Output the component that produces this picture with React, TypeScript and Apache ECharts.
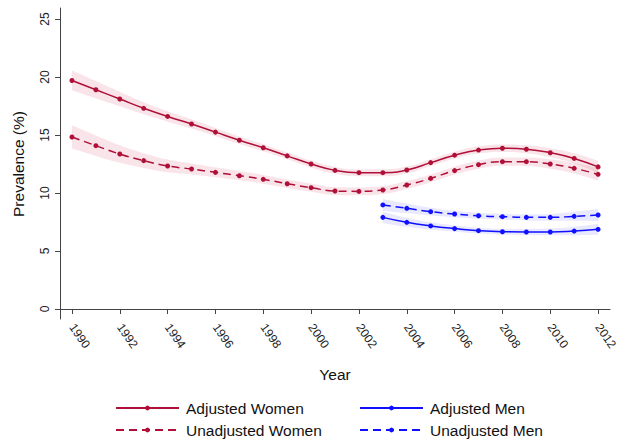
import React, { useEffect, useRef } from "react";
import * as echarts from "echarts";

const years = ["1990","1991","1992","1993","1994","1995","1996","1997","1998","1999","2000","2001","2002","2003","2004","2005","2006","2007","2008","2009","2010","2011","2012"];

const adjWomen = [19.7,18.9,18.1,17.3,16.6,15.95,15.25,14.55,13.9,13.2,12.5,11.95,11.75,11.75,11.98,12.62,13.26,13.7,13.86,13.77,13.47,12.98,12.25];
const adjWomenLo = [18.85,18.15,17.48,16.78,16.15,15.55,14.89,14.22,13.59,12.9,12.2,11.65,11.45,11.45,11.68,12.32,12.96,13.4,13.54,13.43,13.09,12.54,11.73];
const adjWomenHi = [20.55,19.65,18.72,17.82,17.05,16.35,15.61,14.88,14.21,13.5,12.8,12.25,12.05,12.05,12.28,12.92,13.56,14.0,14.18,14.11,13.85,13.42,12.77];

const unadjWomen = [14.83,14.08,13.36,12.79,12.33,12.07,11.78,11.49,11.18,10.8,10.46,10.17,10.14,10.26,10.69,11.26,11.93,12.44,12.7,12.7,12.5,12.13,11.61];
const unadjWomenLo = [13.83,13.2,12.61,12.16,11.78,11.59,11.35,11.09,10.8,10.43,10.1,9.82,9.8,9.92,10.35,10.92,11.59,12.1,12.35,12.33,12.1,11.68,11.06];
const unadjWomenHi = [15.83,14.96,14.11,13.42,12.88,12.55,12.21,11.89,11.56,11.17,10.82,10.52,10.48,10.6,11.03,11.6,12.27,12.78,13.05,13.07,12.9,12.58,12.16];

const adjMen = [null,null,null,null,null,null,null,null,null,null,null,null,null,7.9,7.47,7.16,6.93,6.75,6.66,6.64,6.64,6.72,6.87];
const adjMenLo = [null,null,null,null,null,null,null,null,null,null,null,null,null,7.42,7.08,6.85,6.66,6.5,6.41,6.38,6.35,6.36,6.4];
const adjMenHi = [null,null,null,null,null,null,null,null,null,null,null,null,null,8.38,7.86,7.47,7.2,7.0,6.91,6.9,6.93,7.08,7.34];

const unadjMen = [null,null,null,null,null,null,null,null,null,null,null,null,null,8.97,8.68,8.39,8.19,8.04,7.96,7.9,7.9,7.99,8.1];
const unadjMenLo = [null,null,null,null,null,null,null,null,null,null,null,null,null,8.45,8.27,8.06,7.91,7.78,7.71,7.64,7.6,7.6,7.58];
const unadjMenHi = [null,null,null,null,null,null,null,null,null,null,null,null,null,9.49,9.09,8.72,8.47,8.3,8.21,8.16,8.2,8.38,8.62];

const RED = "#B01038";
const BLUE = "#1010FF";
const RED_BAND = "rgba(205, 40, 70, 0.12)";
const BLUE_BAND = "rgba(30, 30, 255, 0.10)";
const FONT = "Liberation Sans";

function diff(hi: (number | null)[], lo: (number | null)[]) {
  return hi.map((h, i) => (h == null || lo[i] == null ? null : +(h - (lo[i] as number)).toFixed(3)));
}

function band(name: string, lo: (number | null)[], hi: (number | null)[], color: string) {
  return [
    {
      name: name + "_lo",
      type: "line",
      stack: name,
      data: lo,
      smooth: true,
      symbol: "none",
      lineStyle: { opacity: 0 },
      silent: true,
      z: 1,
    },
    {
      name: name + "_band",
      type: "line",
      stack: name,
      data: diff(hi, lo),
      smooth: true,
      symbol: "none",
      lineStyle: { opacity: 0 },
      areaStyle: { color, opacity: 1 },
      silent: true,
      z: 1,
    },
  ];
}

function mainLine(name: string, data: (number | null)[], color: string, dashed: boolean) {
  return {
    name,
    type: "line",
    data,
    smooth: true,
    symbol: "circle",
    symbolSize: 5,
    itemStyle: { color },
    lineStyle: { color, width: 1.5, type: dashed ? [8, 5] : "solid" },
    z: 3,
  };
}

export default function App() {
  const ref = useRef<HTMLDivElement>(null);
  useEffect(() => {
    if (!ref.current) return;
    document.body.style.margin = "0";
    const chart = echarts.init(ref.current, null, { renderer: "svg" });
    const legendCommon = {
      orient: "horizontal",
      padding: 0,
      itemWidth: 63,
      itemHeight: 6,
      textStyle: { fontSize: 15.5, color: "#111", fontFamily: FONT, padding: [0, 0, 0, 2] },
    };
    chart.setOption({
      animation: false,
      backgroundColor: "#fff",
      textStyle: { fontFamily: FONT },
      grid: [
        { left: 60, top: 19, width: 552, height: 290 },
        { left: 60, top: 8, width: 552, height: 311 },
      ],
      xAxis: [
        {
          type: "category",
          gridIndex: 0,
          data: years,
          boundaryGap: true,
          offset: 10,
          name: "Year",
          nameLocation: "middle",
          nameGap: 47,
          nameTextStyle: { fontSize: 15.5, color: "#111", fontFamily: FONT },
          axisLine: { show: true, lineStyle: { color: "#444", width: 1 } },
          axisTick: { show: true, alignWithLabel: true, interval: 1, length: 5, lineStyle: { color: "#444" } },
          axisLabel: { interval: 1, rotate: -55, fontSize: 12, color: "#222", margin: 6, fontFamily: FONT },
          splitLine: { show: false },
        },
        {
          type: "category",
          gridIndex: 1,
          data: years,
          show: false,
        },
      ],
      yAxis: [
        {
          type: "value",
          gridIndex: 0,
          min: 0,
          max: 25,
          interval: 5,
          name: "Prevalence (%)",
          nameLocation: "middle",
          nameGap: 34,
          nameTextStyle: { fontSize: 15.5, color: "#111", fontFamily: FONT },
          axisLine: { show: false },
          axisTick: { show: true, length: 5, lineStyle: { color: "#444" } },
          axisLabel: { rotate: 90, fontSize: 12, color: "#222", margin: 9, fontFamily: FONT },
          splitLine: { show: false },
        },
        {
          type: "value",
          gridIndex: 1,
          min: 0,
          max: 1,
          axisLine: { show: true, lineStyle: { color: "#444", width: 1 } },
          axisTick: { show: false },
          axisLabel: { show: false },
          splitLine: { show: false },
        },
      ],
      legend: [
        { ...legendCommon, left: 115, top: 400, data: ["Adjusted Women"] },
        { ...legendCommon, left: 115, top: 422, data: ["Unadjusted Women"] },
        { ...legendCommon, left: 359, top: 400, data: ["Adjusted Men"] },
        { ...legendCommon, left: 359, top: 422, data: ["Unadjusted Men"] },
      ],
      series: [
        ...band("aw", adjWomenLo, adjWomenHi, RED_BAND),
        ...band("uw", unadjWomenLo, unadjWomenHi, RED_BAND),
        ...band("am", adjMenLo, adjMenHi, BLUE_BAND),
        ...band("um", unadjMenLo, unadjMenHi, BLUE_BAND),
        mainLine("Adjusted Women", adjWomen, RED, false),
        mainLine("Unadjusted Women", unadjWomen, RED, true),
        mainLine("Adjusted Men", adjMen, BLUE, false),
        mainLine("Unadjusted Men", unadjMen, BLUE, true),
      ],
    });
    return () => chart.dispose();
  }, []);
  return <div ref={ref} style={{ width: 620, height: 439 }} />;
}
